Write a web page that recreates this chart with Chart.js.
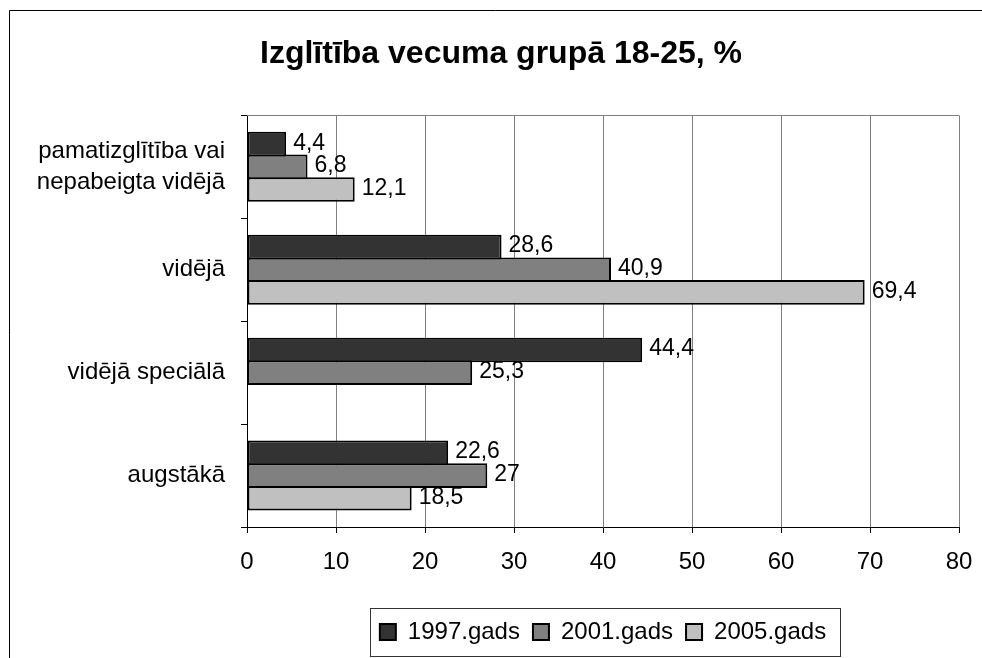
<!DOCTYPE html>
<html>
<head>
<meta charset="utf-8">
<script src="https://cdn.jsdelivr.net/npm/chart.js@4"></script>
<style>
  html, body { margin: 0; padding: 0; background: #fff; }
  #wrap { width: 982px; height: 658px; position: relative; }
</style>
</head>
<body>
<div id="wrap"><canvas id="myChart"></canvas></div>
<script>
const categories = [
  ['pamatizglītība vai', 'nepabeigta vidējā'],
  'vidējā',
  'vidējā speciālā',
  'augstākā'
]
const years = ['1997.gads', '2001.gads', '2005.gads']
const values1997 = [4.4, 28.6, 44.4, 22.6]
const values2001 = [6.8, 40.9, 25.3, 27]
const values2005 = [12.1, 69.4, null, 18.5]
const xTicks = [0, 10, 20, 30, 40, 50, 60, 70, 80]

const fontFamily = '"Liberation Sans", Arial, sans-serif'
Chart.defaults.font.family = fontFamily
Chart.defaults.color = '#000'

const fmt = v => String(v).replace('.', ',')

// outer frame, top border of plot area, legend box
const framePlugin = {
  id: 'frame',
  afterLayout: chart => {
    // the title in the original is centred on the whole frame, not the padded box
    if (chart.titleBlock) {
      chart.titleBlock.left = 20
      chart.titleBlock.right = 982
    }
  },
  beforeDatasetsDraw: chart => {
    const { ctx, chartArea } = chart
    ctx.save()
    ctx.strokeStyle = '#808080'
    ctx.lineWidth = 1
    ctx.beginPath()
    ctx.moveTo(chartArea.left, Math.round(chartArea.top) + 0.5)
    ctx.lineTo(chartArea.right, Math.round(chartArea.top) + 0.5)
    ctx.stroke()
    ctx.restore()
  },
  afterDraw: chart => {
    const ctx = chart.ctx
    ctx.save()
    ctx.strokeStyle = '#000'
    ctx.lineWidth = 1
    ctx.beginPath()
    ctx.moveTo(9.5, 658)
    ctx.lineTo(9.5, 10.5)
    ctx.lineTo(982, 10.5)
    ctx.stroke()

    const boxes = chart.legend.legendHitBoxes
    if (boxes && boxes.length) {
      const first = boxes[0]
      const last = boxes[boxes.length - 1]
      const l = Math.round(first.left - 10) + 0.5
      const r = Math.round(last.left + last.width + 14) + 0.5
      const t = Math.round(first.top - 12) + 0.5
      const b = Math.round(first.top + first.height + 12) + 0.5
      ctx.strokeStyle = '#333'
      ctx.strokeRect(l, t, r - l, b - t)
    }
    ctx.restore()
  }
}

// value labels to the right of every bar
const labelPlugin = {
  id: 'barLabels',
  afterDatasetsDraw: chart => {
    const ctx = chart.ctx
    ctx.save()
    ctx.font = '23px ' + fontFamily
    ctx.fillStyle = '#000'
    ctx.textAlign = 'left'
    ctx.textBaseline = 'middle'
    chart.data.datasets.forEach((ds, i) => {
      const meta = chart.getDatasetMeta(i)
      meta.data.forEach((bar, j) => {
        const v = ds.data[j]
        if (v === null || v === undefined) return
        ctx.fillText(fmt(v), bar.x + 7, bar.y - 1)
      })
    })
    ctx.restore()
  }
}

const newChart = () => {
  const ctx = document.getElementById('myChart')
  return new Chart(ctx, {
    type: 'bar',
    data: {
      labels: categories,
      datasets: [
        { label: years[0], data: values1997, backgroundColor: '#333333' },
        { label: years[1], data: values2001, backgroundColor: '#808080' },
        { label: years[2], data: values2005, backgroundColor: '#c0c0c0' }
      ].map(d => Object.assign(d, {
        borderColor: '#000',
        borderWidth: 2,
        borderSkipped: false,
        categoryPercentage: 0.66,
        barPercentage: 1.09
      }))
    },
    plugins: [framePlugin, labelPlugin],
    options: {
      indexAxis: 'y',
      responsive: false,
      animation: false,
      devicePixelRatio: 1,
      layout: { padding: { left: 20, right: 23, top: 11, bottom: 4 } },
      scales: {
        x: {
          min: 0,
          max: 80,
          afterBuildTicks: scale => { scale.ticks = xTicks.map(v => ({ value: v })) },
          afterFit: scale => {
            scale.height = 80
            scale.paddingLeft = 0
            scale.paddingRight = 0
          },
          ticks: { font: { size: 24 }, padding: 15, maxRotation: 0 },
          grid: { color: '#808080', lineWidth: 1, tickColor: '#000', tickLength: 6 },
          border: { color: '#000', width: 1 }
        },
        y: {
          afterFit: scale => { scale.width = 227 },
          ticks: { font: { size: 24, lineHeight: 1.33 }, padding: 16 },
          grid: { drawOnChartArea: false, offset: true, tickColor: '#000', tickLength: 6 },
          border: { color: '#000', width: 1 }
        }
      },
      plugins: {
        title: {
          display: true,
          text: 'Izglītība vecuma grupā 18-25, %',
          font: { size: 32, weight: 'bold' },
          color: '#000',
          padding: { top: 24, bottom: 42 }
        },
        legend: {
          position: 'bottom',
          fullSize: false,
          labels: { font: { size: 24 }, boxWidth: 16, boxHeight: 16, padding: 13, color: '#000' }
        },
        tooltip: { enabled: false }
      }
    }
  })
}

const c = document.getElementById('myChart')
c.width = 982
c.height = 658
const chart = newChart()
</script>
</body>
</html>
